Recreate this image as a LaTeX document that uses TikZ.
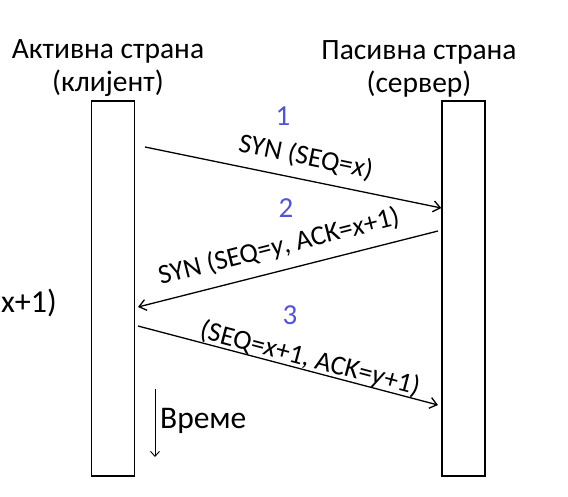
\documentclass[tikz,border=0pt]{standalone}
\usepackage{fontspec}
\setmainfont{Carlito}
\usetikzlibrary{arrows.meta,positioning}
\definecolor{stepblue}{RGB}{84,84,208}
\tikzset{
  bar/.style={draw,line width=1.4pt,minimum width=43pt,minimum height=375pt,inner sep=0pt},
  msg/.style={-{Straight Barb[length=7pt,width=11pt]},line width=1.3pt},
  num/.style={text=stepblue,font=\fontsize{29}{32}\selectfont},
  lbl/.style={font=\fontsize{27.5}{30}\selectfont,inner sep=0pt},
  head/.style={font=\fontsize{29.5}{33}\selectfont,align=center,inner sep=0pt}
}
\begin{document}
\begin{tikzpicture}[x=1pt,y=1pt]
  \useasboundingbox (0,0) rectangle (568,-496);
  % --- the two sides ---
  \node[bar] (cli) at (113,-288.5) {};
  \node[bar] (srv) at (463.5,-288.5) {};
  \node[head,anchor=south] (clitxt) at (108,-97) {Активна страна\\(клијент)};
  \node[head,anchor=south] (srvtxt) at (419,-97) {Пасивна страна\\(сервер)};
  % --- message end points ---
  \coordinate (s1) at (145,-147);
  \coordinate (e1) at (srv.west |- 0,-208);
  \coordinate (s2) at (438,-231);
  \coordinate (e2) at (138,-307);
  \coordinate (s3) at (138,-326);
  \coordinate (e3) at (438,-405);
  \draw[msg] (s1) -- (e1);
  \draw[msg] (s2) -- (e2);
  \draw[msg] (s3) -- (e3);
  % --- step numbers and labels ---
  \node[num] (n1) at (283,-116) {1};
  \node[num] (n2) at (286,-208) {2};
  \node[num] (n3) at (290,-315) {3};
  \node[lbl,rotate=-11.6] (l1) at (306,-157) {SYN (SEQ=\textit{x})};
  \node[lbl,rotate=14.2] (l2) at (279,-247) {SYN (SEQ=\textit{y}, ACK=\textit{x}+1)};
  \node[lbl,rotate=-14.8] (l3) at (310,-359) {(SEQ=\textit{x}+1, ACK=\textit{y}+1)};
  % --- cut-off text at the left edge ---
  \node[font=\fontsize{32}{34}\selectfont,inner sep=0pt,anchor=east] (cut) at (57,-303) {x+1)};
  % --- time ---
  \coordinate (t1) at (155,-389);
  \coordinate (t2) at (155,-457);
  \draw[-{Straight Barb[length=5pt,width=9pt]},line width=0.9pt] (t1) -- (t2);
  \node[font=\fontsize{31.5}{33}\selectfont,anchor=west,inner sep=0pt] (time) at (160,-421) {Време};
\end{tikzpicture}
\end{document}
